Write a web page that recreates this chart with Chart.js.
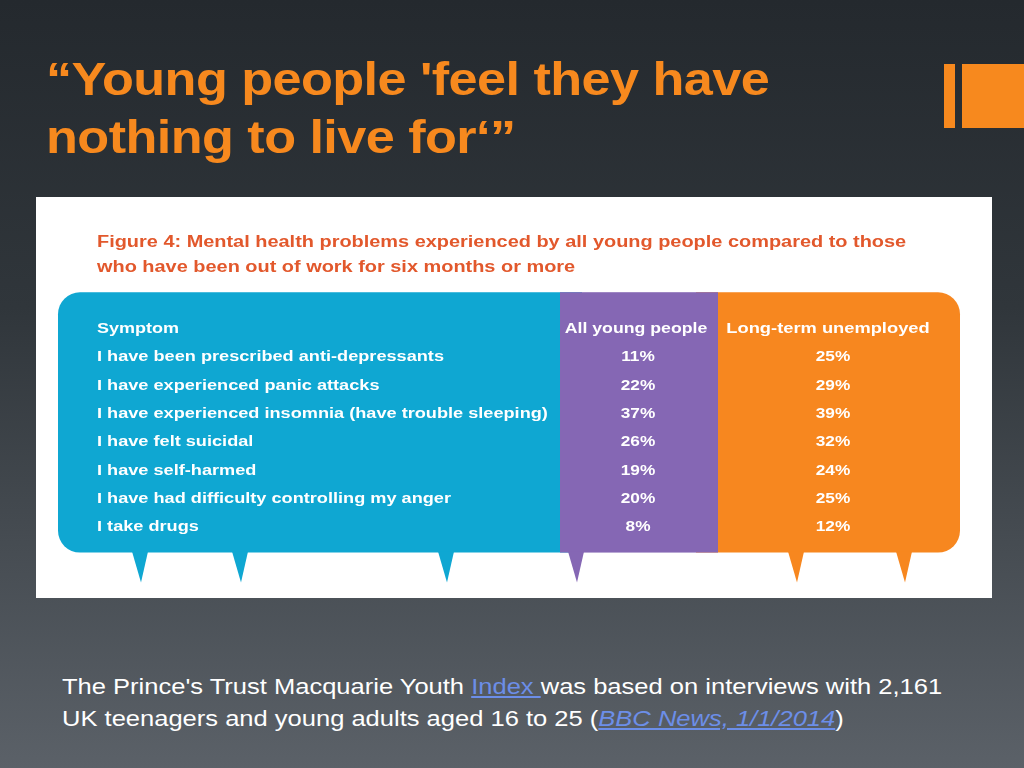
<!DOCTYPE html><html><head><meta charset="utf-8">
<script src="https://cdn.jsdelivr.net/npm/chart.js@4/dist/chart.umd.min.js"></script>
<style>
html,body{margin:0;width:1024px;height:768px;overflow:hidden;font-family:"Liberation Sans",Arial,sans-serif;}
body{background:linear-gradient(#24292e 0%,#30363b 40%,#5b6168 100%);position:relative}
#t{position:absolute;left:46px;top:50px;color:#f7891e;font-weight:bold;font-size:46px;line-height:58px;letter-spacing:-0.5px;transform:scaleX(1.135);transform-origin:left top;white-space:nowrap}
#ic1{position:absolute;left:944px;top:64px;width:11px;height:64px;background:#f7891e}
#ic2{position:absolute;left:962px;top:64px;width:62px;height:64px;background:#f7891e}
#box{position:absolute;left:36px;top:197px;width:956px;height:401px;background:#fff}
#f{position:absolute;left:62px;top:671px;color:#fff;font-size:22px;line-height:32px;transform:scaleX(1.16);transform-origin:left top;white-space:nowrap}
#f a{color:#6c8ee8}
</style></head><body>
<div id="t">“Young people 'feel they have<br>nothing to live for‘”</div>
<div id="ic1"></div><div id="ic2"></div>
<div id="box"><canvas id="c"></canvas></div>
<div id="f">The Prince's Trust Macquarie Youth <a href="#">Index </a>was based on interviews with 2,161<br>UK teenagers and young adults aged 16 to 25 (<a href="#"><i>BBC News, 1/1/2014</i></a>)</div>
<script>
const figTitle=["Figure 4: Mental health problems experienced by all young people compared to those","who have been out of work for six months or more"];
const headers=["Symptom","All young people","Long-term unemployed"];
const symptoms=["I have been prescribed anti-depressants","I have experienced panic attacks","I have experienced insomnia (have trouble sleeping)","I have felt suicidal","I have self-harmed","I have had difficulty controlling my anger","I take drugs"];
const allYoung=[11,22,37,26,19,20,8];
const longTerm=[25,29,39,32,24,25,12];

function txt(c,s,x,y,align,sx){c.save();c.translate(x,y);c.scale(sx,1);c.textAlign=align;c.fillText(s,0,0);c.restore();}
const tablePlugin={id:'tbl',beforeDraw(ch){
 const c=ch.ctx,X=ch.scales.x,Y=ch.scales.y;
 const px=v=>X.getPixelForValue(v), py=v=>Y.getPixelForValue(v);
 const top=py(-1.3), bot=py(7.9);
 const cols=[[22,524,'#0fa7d2'],[524,682,'#8567b4'],[682,924,'#f7871f']];
 c.save();
 c.fillStyle='#fff';c.fillRect(0,0,ch.width,ch.height);
 const r=22;
 c.beginPath();c.fillStyle=cols[0][2];
 c.roundRect(px(22),top,px(524)-px(22)+r,bot-top,[r,0,0,r]);c.fill();
 c.fillStyle=cols[2][2];c.beginPath();
 c.roundRect(px(682)-r,top,px(924)-px(682)+r,bot-top,[0,r,r,0]);c.fill();
 c.fillStyle=cols[1][2];c.fillRect(px(524),top,px(682)-px(524),bot-top);
 const tails=[[104,0],[204,0],[410,0],[540,1],[760,2],[868,2]];
 tails.forEach(([x,i])=>{c.fillStyle=cols[i][2];c.beginPath();c.moveTo(px(x-8),bot-1);c.lineTo(px(x+8),bot-1);c.lineTo(px(x+1),bot+30);c.closePath();c.fill();});
 c.fillStyle='#e2582c';c.font='bold 16px "Liberation Sans",Arial';c.textBaseline='middle';
 txt(c,figTitle[0],px(61),py(-3.05),'left',1.245);txt(c,figTitle[1],px(61),py(-2.18),'left',1.245);
 c.fillStyle='#fff';c.font='bold 15px "Liberation Sans",Arial';
 txt(c,headers[0],px(61),py(0),'left',1.2);
 txt(c,headers[1],px(600),py(0),'center',1.18);txt(c,headers[2],px(792),py(0),'center',1.22);
 symptoms.forEach((s,i)=>{txt(c,s,px(61),py(i+1),'left',1.21);
  txt(c,allYoung[i]+'%',px(602),py(i+1),'center',1.15);txt(c,longTerm[i]+'%',px(797),py(i+1),'center',1.15);});
 c.restore();}};
new Chart(document.getElementById('c'),{type:'scatter',data:{datasets:[{data:[]}]},
 options:{responsive:true,maintainAspectRatio:false,animation:false,layout:{padding:0},
 plugins:{legend:{display:false},tooltip:{enabled:false}},
 scales:{x:{type:'linear',min:0,max:956,display:false},y:{type:'linear',reverse:true,min:-132/28.3,max:269/28.3,display:false}}},
 plugins:[tablePlugin]});
</script></body></html>
